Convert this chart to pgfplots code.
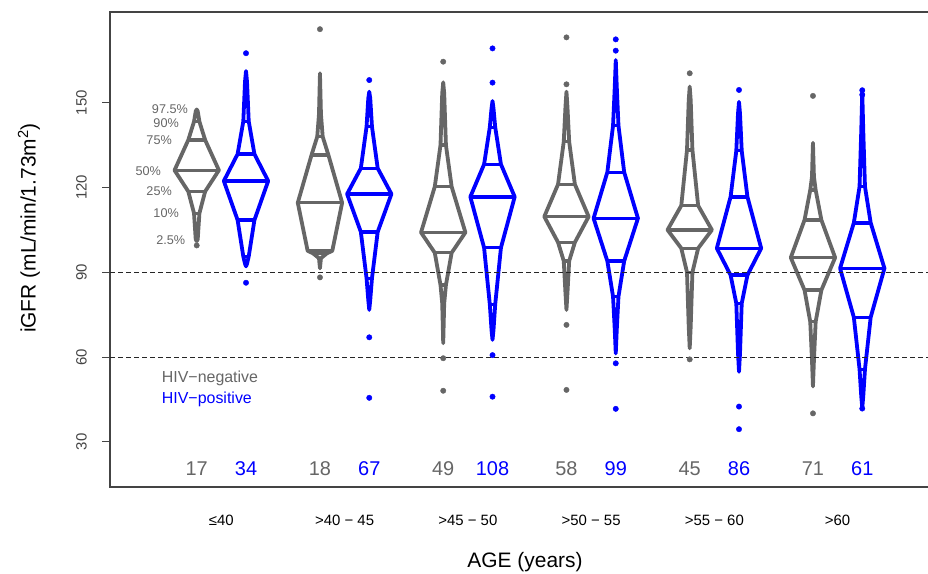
\documentclass[border=0pt]{standalone}
\usepackage{pgfplots}
\pgfplotsset{compat=1.18}
\usepackage{fontspec}
\setmainfont{Liberation Sans}
\definecolor{gcol}{HTML}{666666}
\definecolor{bcol}{HTML}{0000FF}
\definecolor{frame}{HTML}{444444}

% half-widths (x units) at 25% and 10% levels of the lower half
\def\wlc{0.171}\def\wlb{0.055}
% quantiles: lower end, 2.5, 10, 25, 50, 75, 90, 97.5, upper end
\newcommand\setq[9]{\def\qa{#1}\def\qb{#2}\def\qc{#3}\def\qd{#4}\def\qe{#5}\def\qf{#6}\def\qg{#7}\def\qh{#8}\def\qi{#9}}
\newcommand\qdiamond[2]{%
 \pgfmathsetmacro\xal{#2-0.020}\pgfmathsetmacro\xar{#2+0.020}%
 \pgfmathsetmacro\xbl{#2-0.055}\pgfmathsetmacro\xbr{#2+0.055}%
 \pgfmathsetmacro\xcl{#2-0.171}\pgfmathsetmacro\xcr{#2+0.171}%
 \pgfmathsetmacro\xdl{#2-0.450}\pgfmathsetmacro\xdr{#2+0.450}%
 \pgfmathsetmacro\ybl{#2-\wlb}\pgfmathsetmacro\ybr{#2+\wlb}%
 \pgfmathsetmacro\ycl{#2-\wlc}\pgfmathsetmacro\ycr{#2+\wlc}%
 \addplot[#1, line width=3.8bp, line join=round, line cap=round] coordinates {(#2,\qa) (\xal,\qb) (\ybl,\qc) (\ycl,\qd) (\xdl,\qe) (\xcl,\qf) (\xbl,\qg) (\xal,\qh) (#2,\qi) (\xar,\qh) (\xbr,\qg) (\xcr,\qf) (\xdr,\qe) (\ycr,\qd) (\ybr,\qc) (\xar,\qb) (#2,\qa)};
 \addplot[#1, line width=3.4bp] coordinates {(\ybl,\qc) (\ybr,\qc)};
 \addplot[#1, line width=3.4bp] coordinates {(\ycl,\qd) (\ycr,\qd)};
 \addplot[#1, line width=3.4bp] coordinates {(\xdl,\qe) (\xdr,\qe)};
 \addplot[#1, line width=3.4bp] coordinates {(\xcl,\qf) (\xcr,\qf)};
 \addplot[#1, line width=3.4bp] coordinates {(\xbl,\qg) (\xbr,\qg)};
}

\begin{document}
\begin{tikzpicture}
\path[use as bounding box] (0,0) rectangle (928bp,574bp);
\begin{axis}[
 at={(110bp,87bp)}, anchor=south west,
 scale only axis, width=830bp, height=475bp,
 xmin=-1.759, xmax=15.077, ymin=14.05, ymax=182.08,
 clip=false,
 axis line style={draw=frame, line width=1.3bp},
 ytick={30,60,90,120,150},
 ytick pos=left, tick align=outside, major tick length=8bp,
 tick style={draw=frame, line width=1bp},
 x tick style={draw=none},
 /pgf/number format/assume math mode=true,
 yticklabel style={xshift=-15bp, font=\fontsize{15}{15}\selectfont, text=frame, rotate=90, anchor=south, inner sep=0pt},
 xtick={0.5,3,5.5,8,10.5,13},
 xticklabels={≤40, >40 − 45, >45 − 50, >50 − 55, >55 − 60, >60},
 xticklabel style={font=\fontsize{15}{15}\selectfont, text=black, anchor=base, yshift=-30bp},
]
% HIV-negative (gray) at 0,2.5,5,...; HIV-positive (blue) at 1,3.5,6,...
\setq{101.0}{101.6}{110.9}{118.6}{126.1}{136.8}{143.3}{147.0}{147.6}\qdiamond{gcol}{0}
\setq{92.1}{93.0}{95.6}{108.5}{122.3}{131.8}{143.4}{157.5}{161.2}\qdiamond{bcol}{1}
\def\wlc{0.25}\def\wlb{0.14}
\setq{91.4}{95.0}{96.7}{97.6}{114.6}{131.5}{138.0}{146.0}{160.4}\qdiamond{gcol}{2.5}
\def\wlc{0.171}\def\wlb{0.055}
\setq{76.7}{80.2}{87.9}{104.3}{117.7}{126.8}{141.5}{151.5}{153.9}\qdiamond{bcol}{3.5}
\setq{64.9}{79.0}{85.5}{96.9}{104.1}{120.3}{135.0}{153.3}{157.2}\qdiamond{gcol}{5}
\setq{66.1}{69.6}{78.7}{98.7}{116.7}{128.2}{141.3}{148.0}{150.6}\qdiamond{bcol}{6}
\setq{76.7}{82.6}{94.0}{100.6}{109.7}{121.1}{136.2}{148.6}{153.9}\qdiamond{gcol}{7.5}
\setq{61.3}{69.6}{81.4}{94.0}{109.1}{125.4}{141.9}{155.7}{165.1}\qdiamond{bcol}{8.5}
\setq{63.1}{70.8}{90.0}{98.5}{105.0}{113.6}{133.3}{150.9}{155.7}\qdiamond{gcol}{10}
\setq{54.8}{61.3}{79.0}{89.0}{98.5}{116.7}{133.0}{146.2}{150.3}\qdiamond{bcol}{11}
\setq{49.6}{59.0}{72.5}{83.7}{95.2}{108.5}{119.1}{123.8}{135.8}\qdiamond{gcol}{12.5}
\setq{42.1}{46.0}{55.7}{74.1}{91.4}{107.5}{120.3}{140.3}{153.9}\qdiamond{bcol}{13.5}
% extreme values
\addplot[only marks, mark=*, mark size=2.7bp, gcol] coordinates {
 (0,99.5) (2.5,176.0) (2.5,88.2) (5,164.5) (5,59.6) (5,48.1)
 (7.5,173.1) (7.5,156.5) (7.5,71.4) (7.5,48.4) (10,160.4) (10,59.2)
 (12.5,152.4) (12.5,40.1)};
\addplot[only marks, mark=*, mark size=2.7bp, bcol] coordinates {
 (1,167.5) (1,86.3) (3.5,158.0) (3.5,67.0) (3.5,45.6)
 (6,169.2) (6,157.1) (6,60.7) (6,46.0)
 (8.5,172.4) (8.5,168.4) (8.5,57.8) (8.5,41.7)
 (11,154.5) (11,42.5) (11,34.5) (13.5,154.4) (13.5,152.8) (13.5,41.8)};
% reference lines
\addplot[color=black!85, line width=1bp, dash pattern=on 4.5bp off 3.5bp] coordinates {(-1.759,90) (15.077,90)};
\addplot[color=black!85, line width=1bp, dash pattern=on 4.5bp off 3.5bp] coordinates {(-1.759,60) (15.077,60)};
% percentile labels
\begin{scope}[every node/.style={anchor=east, inner sep=0pt, text=gcol, font=\fontsize{12.7}{12.7}\selectfont}]
\node at (axis cs:-0.176,147.6) {97.5\%};
\node at (axis cs:-0.359,142.9) {90\%};
\node at (axis cs:-0.501,136.6) {75\%};
\node at (axis cs:-0.724,125.9) {50\%};
\node at (axis cs:-0.501,118.8) {25\%};
\node at (axis cs:-0.359,110.9) {10\%};
\node at (axis cs:-0.230,101.4) {2.5\%};
\end{scope}
% legend
\node[anchor=west, inner sep=0pt, text=gcol, font=\fontsize{16}{16}\selectfont] at (axis cs:-0.71,52.3) {HIV−negative};
\node[anchor=west, inner sep=0pt, text=bcol, font=\fontsize{16}{16}\selectfont] at (axis cs:-0.71,45.2) {HIV−positive};
% group sizes
\begin{scope}[every node/.style={inner sep=0pt, font=\fontsize{20}{20}\selectfont}]
\node[text=gcol] at (axis cs:0,20.4) {17};
\node[text=bcol] at (axis cs:1,20.4) {34};
\node[text=gcol] at (axis cs:2.5,20.4) {18};
\node[text=bcol] at (axis cs:3.5,20.4) {67};
\node[text=gcol] at (axis cs:5,20.4) {49};
\node[text=bcol] at (axis cs:6,20.4) {108};
\node[text=gcol] at (axis cs:7.5,20.4) {58};
\node[text=bcol] at (axis cs:8.5,20.4) {99};
\node[text=gcol] at (axis cs:10,20.4) {45};
\node[text=bcol] at (axis cs:11,20.4) {86};
\node[text=gcol] at (axis cs:12.5,20.4) {71};
\node[text=bcol] at (axis cs:13.5,20.4) {61};
\end{scope}
% axis titles
\node[rotate=90, font=\fontsize{21}{21}\selectfont] at ([xshift=-81bp]rel axis cs:0,0.545) {iGFR (mL/min/1.73m\textsuperscript{2})};
\node[font=\fontsize{21}{21}\selectfont] at ([yshift=-75bp]rel axis cs:0.5,0) {AGE (years)};
\end{axis}
\end{tikzpicture}
\end{document}
